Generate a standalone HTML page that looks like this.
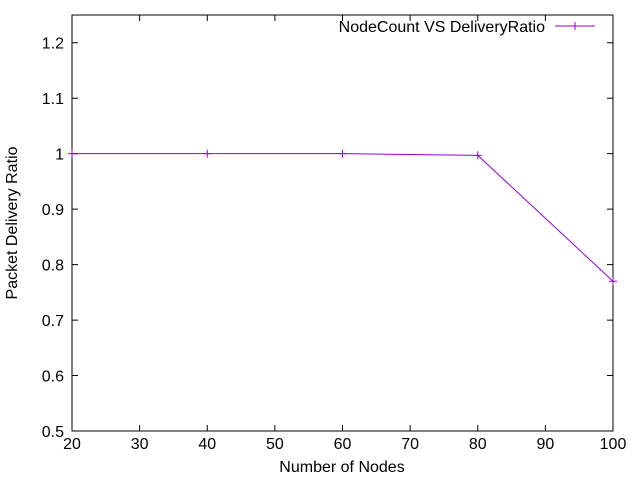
<!DOCTYPE html>
<html><head><meta charset="utf-8"><style>
body{margin:0;background:#fff}
svg{display:block;font-family:"Liberation Sans",sans-serif}
</style></head><body>
<svg id="chart" width="640" height="480">
<rect x="0" y="0" width="640" height="480" fill="#fff"/>
<g id="axes"></g>
<g id="series"></g>
<text x="342" y="472" font-size="16" text-anchor="middle">Number of Nodes</text>
<text transform="translate(17,223) rotate(-90)" font-size="16" text-anchor="middle">Packet Delivery Ratio</text>
<g>
<text x="545" y="32" font-size="16" text-anchor="end">NodeCount VS DeliveryRatio</text>
<line x1="555" y1="26" x2="595" y2="26" stroke="#9400d3" stroke-width="1"/>
<path d="M571,26h8M575,22v8" stroke="#9400d3"/>
</g>
</svg>
<script>
const xValues=[20,40,60,80,100];
const yValues=[1,1,1,0.997,0.77];
const xTicks=[20,30,40,50,60,70,80,90,100];
const yTicks=[0.5,0.6,0.7,0.8,0.9,1,1.1,1.2];
const yTickLabels=["0.5","0.6","0.7","0.8","0.9","1","1.1","1.2"];
const L=72,R=613,T=15,B=431;
const xs=v=>L+(v-20)/80*(R-L);
const ys=v=>B-(v-0.5)/0.75*(B-T);
const NS="http://www.w3.org/2000/svg";
const axes=document.getElementById('axes');
const series=document.getElementById('series');
function mk(tag,attrs,parent){const e=document.createElementNS(NS,tag);for(const k in attrs)e.setAttribute(k,attrs[k]);parent.appendChild(e);return e;}
const frame=mk('rect',{x:L,y:T,width:R-L,height:B-T,fill:'none',stroke:'#000','stroke-width':1},axes);


xTicks.forEach(v=>{
  const x=xs(v);
  const t=mk('path',{d:`M${x},${B}v-6M${x},${T}v6`,stroke:'#000'},axes);
  
  
  const lb=mk('text',{x:x,y:B+18,'font-size':16,'text-anchor':'middle'},axes);
  lb.textContent=v;
  
  
});
yTicks.forEach((v,i)=>{
  const y=ys(v);
  const t=mk('path',{d:`M${L},${y}h6M${R},${y}h-6`,stroke:'#000'},axes);
  
  
  const lb=mk('text',{x:L-8,y:y+6,'font-size':16,'text-anchor':'end'},axes);
  lb.textContent=yTickLabels[i];
  
  
});
const pts=xValues.map((v,i)=>xs(v)+','+ys(yValues[i])).join(' ');
const line=mk('polyline',{points:pts,fill:'none',stroke:'#9400d3','stroke-width':1},series);


xValues.forEach((v,i)=>{
  const x=xs(v),y=ys(yValues[i]);
  const p=mk('path',{d:`M${x-4},${y}h8M${x},${y-4}v8`,stroke:'#9400d3'},series);
  
  
});
</script>
</body></html>
